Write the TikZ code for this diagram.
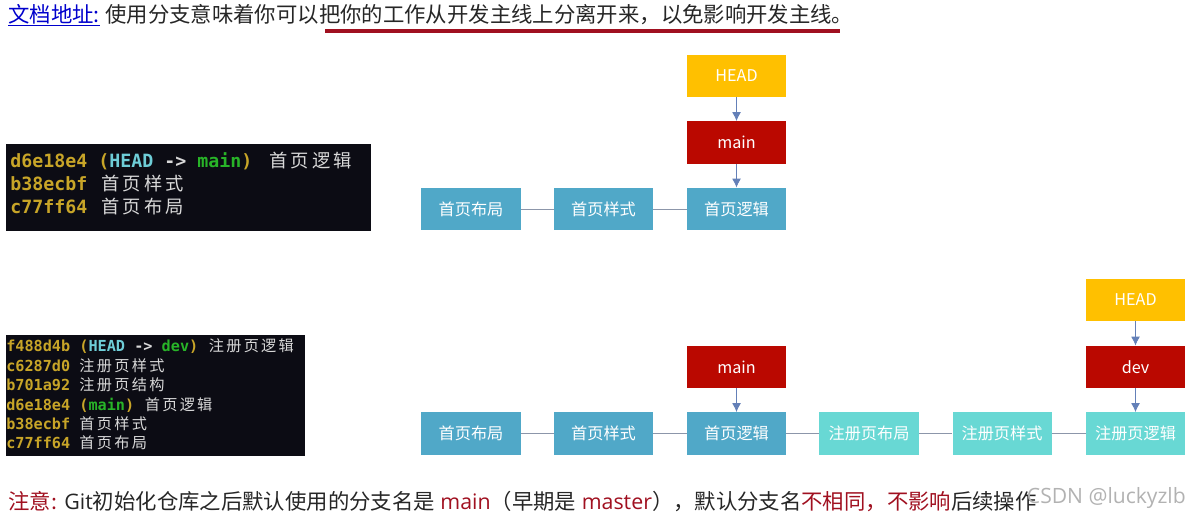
\documentclass[tikz,border=0pt]{standalone}
\usepackage{fontspec}
\setmainfont{Open Sans}
\newfontfamily\cjk{Noto Sans CJK SC}
\newfontfamily\codefont{DejaVu Sans Mono}
\newfontfamily\wideA[LetterSpace=18]{Noto Sans CJK SC}
\newfontfamily\wideB[LetterSpace=15]{Noto Sans CJK SC}
\usetikzlibrary{arrows.meta}
\definecolor{headfill}{RGB}{255,192,0}
\definecolor{branchfill}{RGB}{186,8,0}
\definecolor{oldfill}{RGB}{80,168,200}
\definecolor{newfill}{RGB}{104,216,212}
\definecolor{linkline}{RGB}{140,150,170}
\definecolor{arrowline}{RGB}{100,128,184}
\definecolor{noteline}{RGB}{160,16,32}
\definecolor{termfill}{RGB}{12,12,20}
\definecolor{hashtext}{RGB}{200,165,40}
\definecolor{headtext}{RGB}{110,205,215}
\definecolor{nametext}{RGB}{40,180,40}
\newcommand{\arrowtext}{\textcolor{white!85!black}{->}}
\tikzset{
	box/.style={minimum width=2.475cm,minimum height=1.06cm,inner sep=0pt,text=white,font=\cjk\fontsize{11.5pt}{13pt}\selectfont},
	headbox/.style={box,fill=headfill},
	branchbox/.style={box,fill=branchfill},
	oldbox/.style={box,fill=oldfill},
	newbox/.style={box,fill=newfill},
	term/.style={fill=termfill,inner sep=0pt},
	line/.style={anchor=base west,inner sep=0pt,text=black!85,font=\fontsize{15.2pt}{18pt}\selectfont},
	logA/.style={anchor=base west,inner sep=0pt,text=white!85!black,font=\codefont\bfseries\fontsize{13pt}{15pt}\selectfont},
	logB/.style={anchor=base west,inner sep=0pt,text=white!85!black,font=\codefont\bfseries\fontsize{10.8pt}{13pt}\selectfont},
	tip/.style={semithick,arrowline,-{Latex[length=2.2mm,width=2.2mm]}},
}
\begin{document}
\begin{tikzpicture}[x=0.025cm,y=-0.025cm]

		\useasboundingbox (0,0) rectangle (1189,516);

		\node [line] (intro) at (8,22) {\textcolor{blue!80!black}{\underline{\cjk 文档地址:}} \cjk 使用分支意味着你可以把你的工作从开发主线上分离开来，以免影响开发主线。};
		\coordinate (markA) at (325,31);
		\coordinate (markB) at (840,31);
		\draw [line width=2.4pt,noteline] (markA) -- (markB);

		\node [term,minimum width=9.125cm,minimum height=2.175cm] (termA) at (188.5,187.5) {};
		\node [logA] (logAa) at (10,167) {\textcolor{hashtext}{d6e18e4 (}\textcolor{headtext}{HEAD}\ \arrowtext\ \textcolor{nametext}{main}\textcolor{hashtext}{)}\hspace{4pt}\ {\mdseries\wideA 首页逻辑}};
		\node [logA] (logAb) at (10,190) {\textcolor{hashtext}{b38ecbf}\hspace{2pt}\ {\mdseries\wideA 首页样式}};
		\node [logA] (logAc) at (10,213) {\textcolor{hashtext}{c77ff64}\hspace{2pt}\ {\mdseries\wideA 首页布局}};

		\node [term,minimum width=7.475cm,minimum height=3.025cm] (termB) at (155.5,395.5) {};
		\node [logB] (logBa) at (6,351) {\textcolor{hashtext}{f488d4b (}\textcolor{headtext}{HEAD}\ \arrowtext\ \textcolor{nametext}{dev}\textcolor{hashtext}{)}\hspace{1pt}\ {\mdseries\wideB 注册页逻辑}};
		\node [logB] (logBb) at (6,371) {\textcolor{hashtext}{c6287d0} {\mdseries\wideB 注册页样式}};
		\node [logB] (logBc) at (6,390) {\textcolor{hashtext}{b701a92} {\mdseries\wideB 注册页结构}};
		\node [logB] (logBd) at (6,410) {\textcolor{hashtext}{d6e18e4 (}\textcolor{nametext}{main}\textcolor{hashtext}{)}\hspace{1pt}\ {\mdseries\wideB 首页逻辑}};
		\node [logB] (logBe) at (6,429) {\textcolor{hashtext}{b38ecbf} {\mdseries\wideB 首页样式}};
		\node [logB] (logBf) at (6,448) {\textcolor{hashtext}{c77ff64} {\mdseries\wideB 首页布局}};

		\node [oldbox] (layoutA) at (471,209) {首页布局};
		\node [oldbox] (styleA) at (603.5,209) {首页样式};
		\node [oldbox] (logicA) at (736.5,209) {首页逻辑};
		\node [branchbox] (mainA) at (736.5,142.5) {main};
		\node [headbox] (headA) at (736.5,76) {HEAD};
		\draw [thin,linkline] (layoutA) -- (styleA);
		\draw [thin,linkline] (styleA) -- (logicA);
		\draw [tip] (headA) -- (mainA);
		\draw [tip] (mainA) -- (logicA);

		\node [oldbox] (layoutB) at (471,433.5) {首页布局};
		\node [oldbox] (styleB) at (603.5,433.5) {首页样式};
		\node [oldbox] (logicB) at (736.5,433.5) {首页逻辑};
		\node [newbox] (regLayout) at (869,433.5) {注册页布局};
		\node [newbox] (regStyle) at (1002,433.5) {注册页样式};
		\node [newbox] (regLogic) at (1135.5,433.5) {注册页逻辑};
		\node [branchbox] (mainB) at (736.5,367) {main};
		\node [branchbox] (devB) at (1135.5,367) {dev};
		\node [headbox] (headB) at (1135.5,300) {HEAD};
		\draw [thin,linkline] (layoutB) -- (styleB);
		\draw [thin,linkline] (styleB) -- (logicB);
		\draw [thin,linkline] (logicB) -- (regLayout);
		\draw [thin,linkline] (regLayout) -- (regStyle);
		\draw [thin,linkline] (regStyle) -- (regLogic);
		\draw [tip] (mainB) -- (logicB);
		\draw [tip] (headB) -- (devB);
		\draw [tip] (devB) -- (regLogic);

		\node [line] (note) at (8,509) {\textcolor{noteline}{\cjk 注意:} Git{\cjk 初始化仓库之后默认使用的分支名是} \textcolor{noteline}{main}{\cjk（早期是} \textcolor{noteline}{master}{\cjk ），默认分支名}\textcolor{noteline}{\cjk 不相同，不影响}{\cjk 后续操作}};
		\node [anchor=base east,inner sep=0pt,text=black!30,font=\fontsize{15pt}{18pt}\selectfont] (mark) at (1186,503) {CSDN @luckyzlb};

\end{tikzpicture}
\end{document}
